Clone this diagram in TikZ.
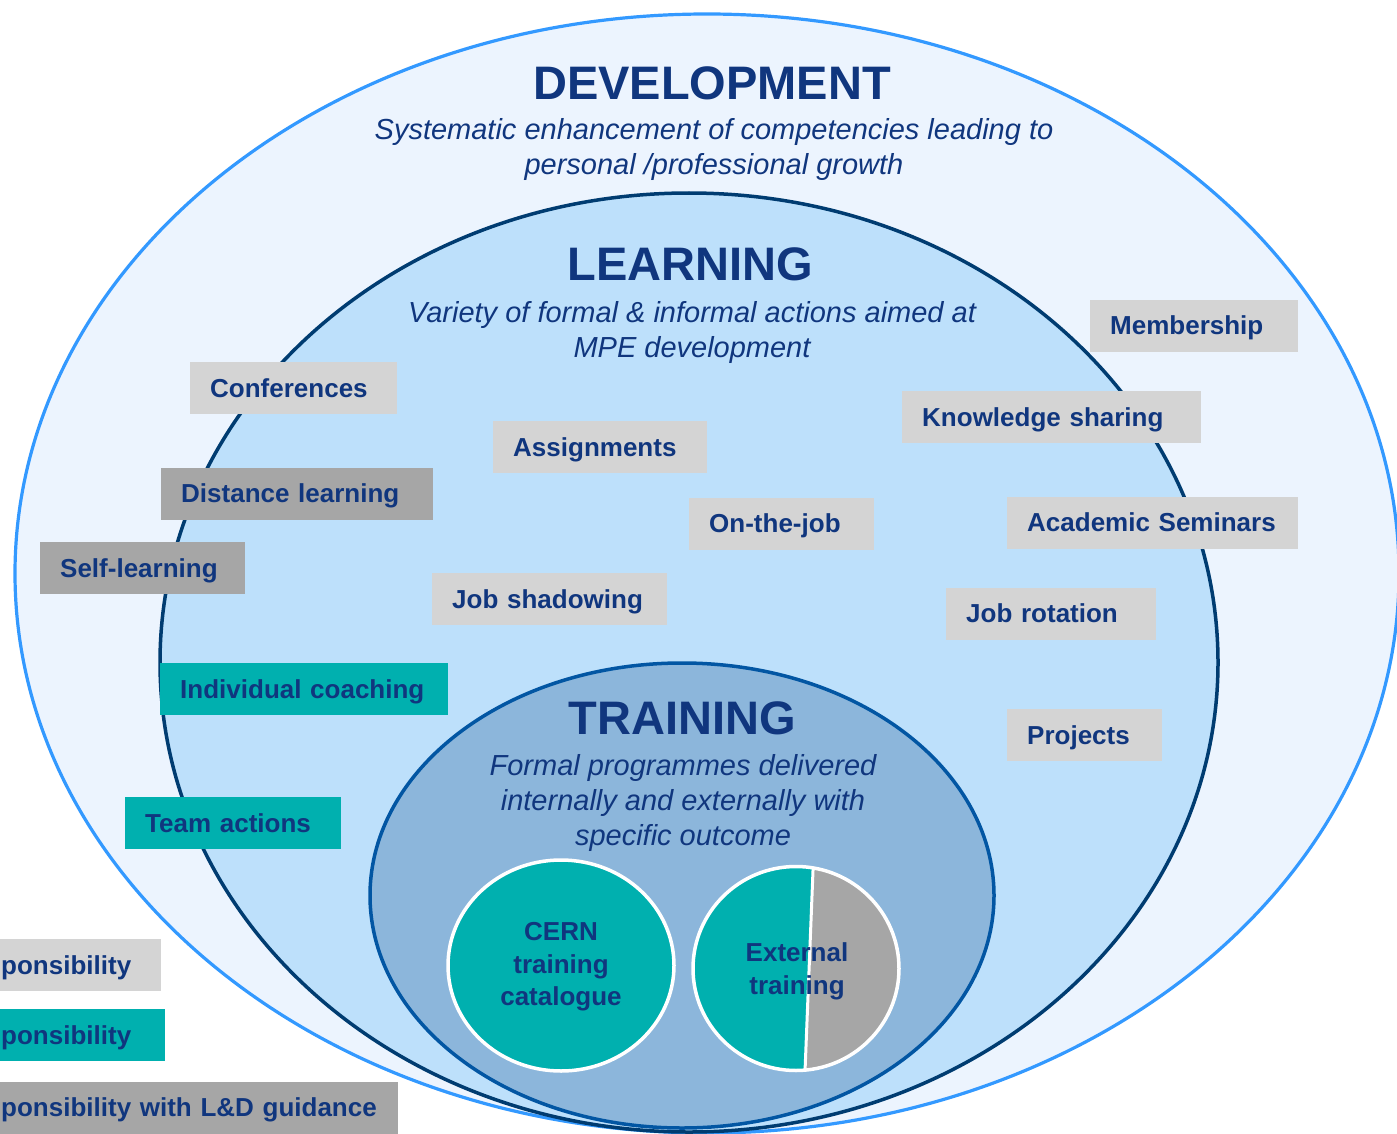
\documentclass[tikz,border=0pt]{standalone}
\usepackage{fontspec}
\setmainfont{Liberation Sans}
\definecolor{navy}{HTML}{10367E}
\definecolor{devfill}{HTML}{ECF4FE}
\definecolor{devline}{HTML}{3399FF}
\definecolor{learnfill}{HTML}{BDE0FB}
\definecolor{learnline}{HTML}{003C71}
\definecolor{trainfill}{HTML}{8CB6DB}
\definecolor{trainline}{HTML}{0256A3}
\definecolor{boxlight}{HTML}{D4D4D4}
\definecolor{boxdark}{HTML}{A6A6A6}
\definecolor{boxteal}{HTML}{00B0AF}
\begin{document}
\begin{tikzpicture}[x=1pt,y=-1pt]
	\tikzstyle{every node}=[text=navy]
	\tikzstyle{title}=[font=\bfseries\fontsize{47}{50}\selectfont]
	\tikzstyle{subtitle}=[align=center, font=\itshape\fontsize{29}{35}\selectfont]
	\tikzstyle{actbox}=[rectangle, anchor=west, inner xsep=20pt, inner ysep=0pt, minimum height=52pt, text height=18.6pt, text depth=0pt, align=left, font=\bfseries\fontsize{26}{30}\selectfont]
	\tikzstyle{lgtbox}=[actbox, fill=boxlight]
	\tikzstyle{drkbox}=[actbox, fill=boxdark]
	\tikzstyle{teabox}=[actbox, fill=boxteal]
	\tikzstyle{circtext}=[align=center, font=\bfseries\fontsize{26}{32.5}\selectfont]
	\useasboundingbox (0,0) rectangle (1397,1134);
	
	% the three ellipses
	\draw [line width=3.2pt, color=devline, fill=devfill] (707,573.5) ellipse [x radius=692pt, y radius=559.5pt];
	\draw [line width=3.5pt, color=learnline, fill=learnfill] (689,662.5) ellipse [x radius=529pt, y radius=469.5pt];
	\draw [line width=3.5pt, color=trainline, fill=trainfill] (682,895.5) ellipse [x radius=312pt, y radius=232.5pt];
	
	\node [title] (dev) at (712,83) {DEVELOPMENT};
	\node [subtitle] (devtxt) at (714,150) {Systematic enhancement of competencies leading to\\personal /professional growth};
	\node [title] (learn) at (690,264) {LEARNING};
	\node [subtitle] (learntxt) at (692,332.5) {Variety of formal \& informal actions aimed at\\MPE development};
	\node [title] (train) at (682,718) {TRAINING};
	\node [subtitle] (traintxt) at (683,803) {Formal programmes delivered\\internally and externally with\\specific outcome};
	
	% catalogue and external circles
	\fill [boxteal] (561,965.5) ellipse [x radius=113pt, y radius=105.5pt];
	\draw [line width=3.5pt, white] (561,965.5) ellipse [x radius=113pt, y radius=105.5pt];
	\fill [boxdark] (796,968.5) ellipse [x radius=103pt, y radius=102pt];
	\begin{scope}
	\clip (650,850) -- (813.7,850) -- (804.2,1090) -- (650,1090) -- cycle;
	\fill [boxteal] (796,968.5) ellipse [x radius=103pt, y radius=102pt];
	\end{scope}
	\draw [line width=3pt, white] (813.1,868) -- (805.1,1069);
	\draw [line width=3.5pt, white] (796,968.5) ellipse [x radius=103pt, y radius=102pt];
	\node [circtext] (cern) at (561,967) {CERN\\training\\catalogue};
	\node [circtext] (ext) at (797,971.5) {External\\training};
	
	% activity boxes
	\node [lgtbox, text width=167pt] (conf) at (190,388) {Conferences};
	\node [lgtbox, text width=174pt] (assign) at (493,447) {Assignments};
	\node [drkbox, text width=232pt] (dist) at (161,493.5) {Distance learning};
	\node [drkbox, text width=165pt] (self) at (40,568) {Self-learning};
	\node [lgtbox, text width=145pt] (onjob) at (689,523.5) {On-the-job};
	\node [lgtbox, text width=195pt] (shadow) at (432,599) {Job shadowing};
	\node [lgtbox, text width=168pt] (member) at (1090,325.5) {Membership};
	\node [lgtbox, text width=259pt] (knowl) at (902,417) {Knowledge sharing};
	\node [lgtbox, text width=251pt] (acad) at (1007,522.5) {Academic Seminars};
	\node [lgtbox, text width=170pt] (rotat) at (946,613.5) {Job rotation};
	\node [lgtbox, text width=115pt] (proj) at (1007,735) {Projects};
	\node [teabox, text width=248pt] (coach) at (160,689) {Individual coaching};
	\node [teabox, text width=176pt] (team) at (125,823) {Team actions};
	
	% legend
	\node [lgtbox, text width=140pt] (leglgt) at (-19,965) {ponsibility};
	\node [teabox, text width=144pt] (legtea) at (-19,1035) {ponsibility};
	\node [drkbox, text width=377pt] (legdrk) at (-19,1107.5) {ponsibility with L\&D guidance};
\end{tikzpicture}
\end{document}
